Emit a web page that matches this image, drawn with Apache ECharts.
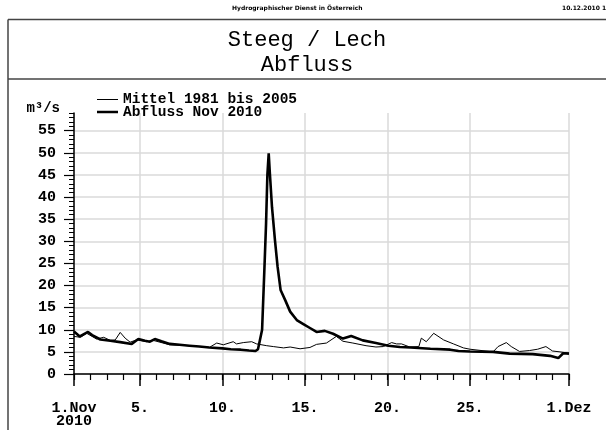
<!DOCTYPE html>
<html>
<head>
<meta charset="utf-8">
<script src="https://cdn.jsdelivr.net/npm/echarts@6/dist/echarts.min.js"></script>
<style>html,body{margin:0;padding:0;background:#fff;}#c{width:606px;height:430px;}</style>
</head>
<body>
<div id="c"></div>
<script>
// ---- data (day offset from 1 Nov 2010 00:00, discharge m³/s) ----
const abflussDays = [0,0.35,0.6,0.85,1.1,1.6,2.2,2.8,3.5,3.9,4.3,4.6,4.9,5.3,5.8,6.4,7.0,7.6,8.2,9.0,9.5,10.1,10.6,11.0,11.15,11.27,11.4,11.53,11.64,11.72,11.8,11.86,12.0,12.18,12.34,12.52,12.8,13.1,13.5,13.9,14.3,14.7,15.2,15.7,16.3,16.8,17.5,18.3,19.05,19.75,20.4,21.6,22.8,23.3,24.0,25.4,26.4,27.8,28.85,29.35,29.65,30];
const abflussValues = [9.6,8.5,9.0,9.5,8.8,7.8,7.5,7.2,6.8,7.9,7.5,7.3,7.9,7.4,6.8,6.6,6.4,6.2,6.0,5.8,5.6,5.5,5.3,5.2,5.6,7.7,10,22.8,34,45,49.9,46,37.7,30.2,24.2,19,16.7,14.1,12.2,11.3,10.4,9.5,9.75,9.1,8.0,8.6,7.6,7.0,6.4,6.1,6.0,5.7,5.5,5.2,5.1,5.0,4.6,4.5,4.1,3.6,4.7,4.6];
const mittelDays = [0,0.4,0.77,1.37,1.8,2.2,2.5,2.8,3.1,3.4,3.8,4.4,4.8,5.8,7.0,8.2,8.65,9.05,9.65,9.85,10.26,10.77,11.07,11.68,12.08,12.7,13.1,13.7,14.3,14.7,15.3,15.9,16.3,16.9,17.7,18.3,18.75,19.25,19.55,19.85,20.35,20.9,21.05,21.35,21.8,22.4,23.0,23.6,24.0,25.4,25.7,26.2,26.5,27.0,27.6,28.1,28.6,29.0,29.45,30];
const mittelValues = [8.5,8.3,9.2,7.9,8.3,7.6,7.7,9.4,8.1,7.2,7.7,7.3,7.6,6.6,6.4,6.0,7.0,6.6,7.3,6.8,7.1,7.3,6.8,6.4,6.2,5.9,6.1,5.7,6.0,6.7,7.0,8.5,7.4,7.0,6.4,6.1,6.2,7.1,6.8,6.8,6.1,6.2,8.1,7.3,9.2,7.7,6.8,5.9,5.6,5.0,6.2,7.1,6.2,5.1,5.3,5.6,6.2,5.2,5.0,4.7];
const xTickDays = [0,4,9,14,19,24,30];
const xTickLabels = ['1.Nov\n2010','5.','10.','15.','20.','25.','1.Dez'];
const yTickValues = [0,5,10,15,20,25,30,35,40,45,50,55];
const seriesNames = ['Mittel 1981 bis 2005','Abfluss Nov 2010'];

const zip = (a, b) => a.map((d, i) => [d, b[i]]);
const FONT = 'Liberation Mono';
const labelMap = {};
xTickDays.forEach((d, i) => { labelMap[d] = xTickLabels[i]; });

const legendBase = {
  orient: 'vertical', left: 97, padding: 0,
  icon: 'rect', itemWidth: 21,
  textStyle: {fontFamily: FONT, fontSize: 14.5, fontWeight: 'bold', color: '#000'}
};

const chart = echarts.init(document.getElementById('c'), null, {renderer: 'canvas'});
chart.setOption({
  animation: false,
  backgroundColor: '#fff',
  title: {
    text: 'Steeg / Lech\nAbfluss',
    left: 307, top: 28, textAlign: 'center', padding: 0,
    textStyle: {fontFamily: FONT, fontSize: 22, fontWeight: 'normal', color: '#000', lineHeight: 25}
  },
  legend: [
    Object.assign({}, legendBase, {data: [seriesNames[0]], top: 92, itemHeight: 1}),
    Object.assign({}, legendBase, {data: [seriesNames[1]], top: 104.5, itemHeight: 2.5})
  ],
  grid: {left: 74, right: 37, top: 113, bottom: 56},
  xAxis: [{
    type: 'value', min: 0, max: 30,
    axisLine: {show: true, lineStyle: {color: '#000', width: 1.5}},
    axisTick: {show: true, length: 12, customValues: xTickDays, lineStyle: {color: '#000', width: 1.5}},
    axisLabel: {customValues: xTickDays, margin: 28, formatter: v => labelMap[v] || '',
      fontFamily: FONT, fontSize: 15, fontWeight: 'bold', color: '#000', lineHeight: 13},
    splitLine: {show: true, lineStyle: {color: '#dadada', width: 1.5}}
  }, {
    type: 'value', min: 0, max: 30, interval: 1, position: 'bottom',
    axisLine: {show: false},
    axisTick: {show: true, length: 6, lineStyle: {color: '#000', width: 1.2}},
    axisLabel: {show: false},
    splitLine: {show: false}
  }],
  yAxis: [{
    type: 'value', min: 0, max: 59, interval: 5,
    name: 'm³/s', nameLocation: 'end', nameGap: -2,
    nameTextStyle: {fontFamily: FONT, fontSize: 14, fontWeight: 'bold', color: '#000', align: 'right', padding: [0, 14, 0, 0]},
    axisLine: {show: true, lineStyle: {color: '#000', width: 1.5}},
    axisTick: {show: true, length: 10, customValues: yTickValues, lineStyle: {color: '#000', width: 1.2}},
    axisLabel: {customValues: yTickValues, margin: 18, fontFamily: FONT, fontSize: 15, fontWeight: 'bold', color: '#000'},
    splitLine: {show: true, lineStyle: {color: '#dadada', width: 1.5}}
  }, {
    type: 'value', min: 0, max: 59, interval: 1, position: 'left',
    axisLine: {show: false},
    axisTick: {show: true, length: 5, lineStyle: {color: '#000', width: 1}},
    axisLabel: {show: false},
    splitLine: {show: false}
  }],
  series: [{
    name: seriesNames[0], type: 'line', symbol: 'none', xAxisIndex: 0, yAxisIndex: 0,
    data: zip(mittelDays, mittelValues),
    lineStyle: {color: '#000', width: 1}, itemStyle: {color: '#000'}
  }, {
    name: seriesNames[1], type: 'line', symbol: 'none', xAxisIndex: 0, yAxisIndex: 0,
    data: zip(abflussDays, abflussValues),
    lineStyle: {color: '#000', width: 2.6}, itemStyle: {color: '#000'}
  }],
  graphic: [
    {type: 'line', shape: {x1: 8, y1: 19.5, x2: 606, y2: 19.5}, style: {stroke: '#444', lineWidth: 1.5}, silent: true},
    {type: 'line', shape: {x1: 8, y1: 79, x2: 606, y2: 79}, style: {stroke: '#444', lineWidth: 1.5}, silent: true},
    {type: 'line', shape: {x1: 8, y1: 19.5, x2: 8, y2: 430}, style: {stroke: '#444', lineWidth: 1.5}, silent: true},
    {type: 'text', left: 232, top: 5, style: {text: 'Hydrographischer Dienst in Österreich', font: 'bold 6px "DejaVu Sans"', fill: '#000'}},
    {type: 'text', left: 562, top: 5, style: {text: '10.12.2010 10:0', font: 'bold 6px "DejaVu Sans"', fill: '#000'}}
  ]
});
</script>
</body>
</html>
